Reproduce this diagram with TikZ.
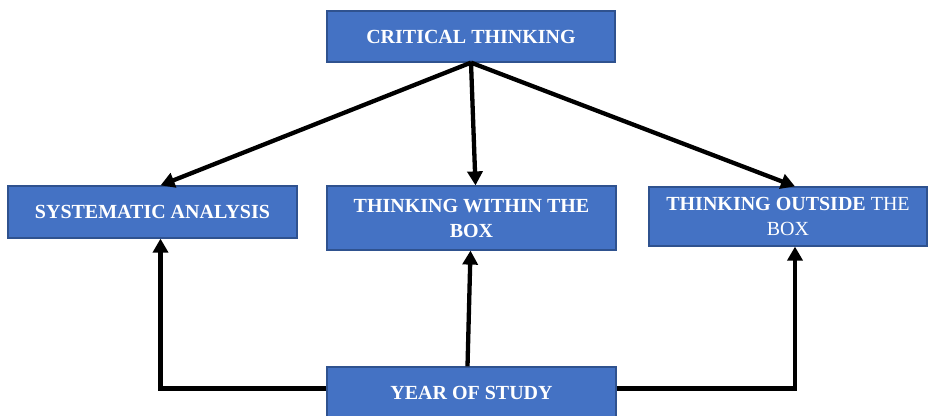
\documentclass[tikz,border=0pt]{standalone}
\usepackage{fontspec}
\setmainfont{Liberation Serif}
\usetikzlibrary{arrows.meta}
\definecolor{boxfill}{HTML}{4472C4}
\definecolor{boxline}{HTML}{2F528F}
\begin{document}
\begin{tikzpicture}[x=1pt,y=1pt,
  blk/.style={draw=boxline,line width=1.2pt,fill=boxfill,text=white,align=center,inner sep=0pt,
    font=\fontsize{20}{25}\selectfont},
  conn/.style={line width=4.3pt,-{Triangle[length=14pt,width=15pt]}}]
\clip (0,0) rectangle (929,-415);
\fill[white] (0,0) rectangle (929,-415);
\node[blk,minimum width=288pt,minimum height=51pt] (CT) at (471,-36.5) {\textbf{CRITICAL THINKING}};
\node[blk,minimum width=289pt,minimum height=52pt] (SA) at (152.5,-212) {\textbf{SYSTEMATIC ANALYSIS}};
\node[blk,minimum width=289pt,minimum height=64pt] (WI) at (471.5,-218) {\textbf{THINKING WITHIN THE}\\\textbf{BOX}};
\node[blk,minimum width=278pt,minimum height=59pt] (OU) at (788,-216.5) {\textbf{THINKING OUTSIDE} THE\\BOX};
\node[blk,minimum width=289pt,minimum height=53pt] (YS) at (471.5,-393.5) {\raisebox{2pt}{\textbf{YEAR OF STUDY}}};
\draw[conn] (CT.south) -- ([xshift=8pt]SA.north);
\draw[conn] (CT.south) -- ([xshift=4pt]WI.north);
\draw[conn] (CT.south) -- ([xshift=7pt]OU.north);
\draw[conn] ([yshift=5pt]YS.west) -| ([xshift=8pt]SA.south);
\draw[conn] ([xshift=-4pt]YS.north) -- ([xshift=-1pt]WI.south);
\draw[conn] ([yshift=5pt]YS.east) -| ([xshift=7pt]OU.south);
\end{tikzpicture}
\end{document}
